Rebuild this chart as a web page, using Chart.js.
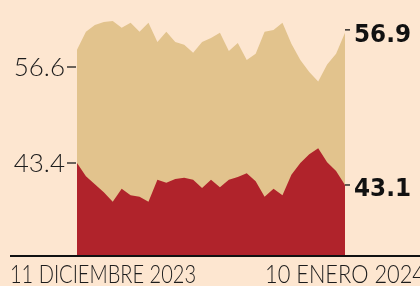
<!DOCTYPE html>
<html>
<head>
<meta charset="utf-8">
<script src="https://cdn.jsdelivr.net/npm/chart.js@4/dist/chart.umd.min.js"></script>
<style>
  html, body { margin: 0; padding: 0; background: #FDE6D0; }
  #wrap { width: 420px; height: 286px; position: relative; }
  canvas { display: block; }
</style>
</head>
<body>
<div id="wrap"><canvas id="c" width="420" height="286"></canvas></div>
<script>
// Daily categories, 11 Dec 2023 .. 10 Jan 2024
const days = [
  '11 dic','12 dic','13 dic','14 dic','15 dic','16 dic','17 dic','18 dic','19 dic','20 dic',
  '21 dic','22 dic','23 dic','24 dic','25 dic','26 dic','27 dic','28 dic','29 dic','30 dic',
  '31 dic','1 ene','2 ene','3 ene','4 ene','5 ene','6 ene','7 ene','8 ene','9 ene','10 ene'
];
// Upper series (tan area)
const upperSeries = [
  56.60, 56.92, 57.04, 57.09, 57.11, 56.99, 57.08, 56.92, 57.08, 56.74,
  56.92, 56.74, 56.69, 56.55, 56.74, 56.81, 56.90, 56.58, 56.72, 56.42,
  56.53, 56.92, 56.95, 57.08, 56.71, 56.42, 56.21, 56.04, 56.34, 56.53, 56.90
];
// Lower series (red area)
const lowerSeries = [
  43.40, 43.22, 43.11, 43.00, 42.87, 43.05, 42.96, 42.94, 42.87, 43.17,
  43.13, 43.18, 43.20, 43.17, 43.06, 43.17, 43.07, 43.17, 43.21, 43.26,
  43.15, 42.94, 43.05, 42.96, 43.24, 43.40, 43.52, 43.60, 43.41, 43.29, 43.10
];
const startLabels = ['56.6', '43.4'];
const endLabels = ['56.9', '43.1'];
const dateLabels = ['11 DICIEMBRE 2023', '10 ENERO 2024'];

const COLORS = { bg: '#FDE6D0', tan: '#E2C38D', red: '#B0232B', ink: '#1c1c1c' };

const overlay = {
  id: 'overlay',
  beforeDraw(chart) {
    const ctx = chart.ctx;
    ctx.save();
    ctx.fillStyle = COLORS.bg;
    ctx.fillRect(0, 0, chart.width, chart.height);
    ctx.restore();
  },
  afterDraw(chart) {
    const ctx = chart.ctx;
    const area = chart.chartArea;
    const yU = chart.scales.yU, yL = chart.scales.yL;
    ctx.save();
    // baseline
    ctx.strokeStyle = '#111';
    ctx.lineWidth = 2;
    ctx.beginPath();
    ctx.moveTo(10, area.bottom + 1);
    ctx.lineTo(420, area.bottom + 1);
    ctx.stroke();

    // left ticks + labels
    ctx.fillStyle = COLORS.ink;
    ctx.strokeStyle = COLORS.ink;
    ctx.lineWidth = 1.3;
    ctx.font = '300 26px Lato, "DejaVu Sans", sans-serif';
    ctx.textAlign = 'right';
    ctx.textBaseline = 'alphabetic';
    const leftY = [67, 163];
    startLabels.forEach((t, i) => {
      ctx.beginPath();
      ctx.moveTo(67, leftY[i]);
      ctx.lineTo(area.left - 1, leftY[i]);
      ctx.stroke();
      ctx.fillText(t, 65, leftY[i] + 9, 54);
    });

    // right ticks + labels
    const lastIdx = days.length - 1;
    const rightY = [yU.getPixelForValue(upperSeries[lastIdx]) - 3, yL.getPixelForValue(lowerSeries[lastIdx])];
    ctx.fillStyle = '#111';
    ctx.strokeStyle = '#111';
    ctx.font = 'bold 24px "DejaVu Sans", sans-serif';
    ctx.textAlign = 'left';
    endLabels.forEach((t, i) => {
      ctx.beginPath();
      ctx.moveTo(area.right, rightY[i]);
      ctx.lineTo(area.right + 5, rightY[i]);
      ctx.stroke();
      ctx.fillText(t, 354, rightY[i] + (i === 0 ? 12 : 11), 57);
    });

    // date labels
    ctx.fillStyle = COLORS.ink;
    ctx.font = '300 26px Lato, "DejaVu Sans", sans-serif';
    ctx.textAlign = 'left';
    ctx.fillText(dateLabels[0], 10, 283, 186);
    ctx.fillText(dateLabels[1], 265, 283, 160);
    ctx.restore();
  }
};

new Chart(document.getElementById('c'), {
  type: 'line',
  data: {
    labels: days,
    datasets: [
      {
        label: 'inferior',
        data: lowerSeries,
        yAxisID: 'yL',
        fill: 'start',
        backgroundColor: COLORS.red,
        borderColor: 'rgba(0,0,0,0)',
        borderWidth: 0,
        pointRadius: 0,
        tension: 0,
        order: 0
      },
      {
        label: 'superior',
        data: upperSeries,
        yAxisID: 'yU',
        fill: 'start',
        backgroundColor: COLORS.tan,
        borderColor: 'rgba(0,0,0,0)',
        borderWidth: 0,
        pointRadius: 0,
        tension: 0,
        order: 1
      }
    ]
  },
  options: {
    responsive: false,
    animation: false,
    layout: { padding: { left: 77, right: 75, top: 0, bottom: 31 } },
    plugins: { legend: { display: false }, tooltip: { enabled: false } },
    scales: {
      x: { display: false, offset: false },
      yU: { display: false, position: 'left', min: 52.98, max: 57.48 },
      yL: { display: false, position: 'right', min: 42.145, max: 45.623 }
    }
  },
  plugins: [overlay]
});
</script>
</body>
</html>
